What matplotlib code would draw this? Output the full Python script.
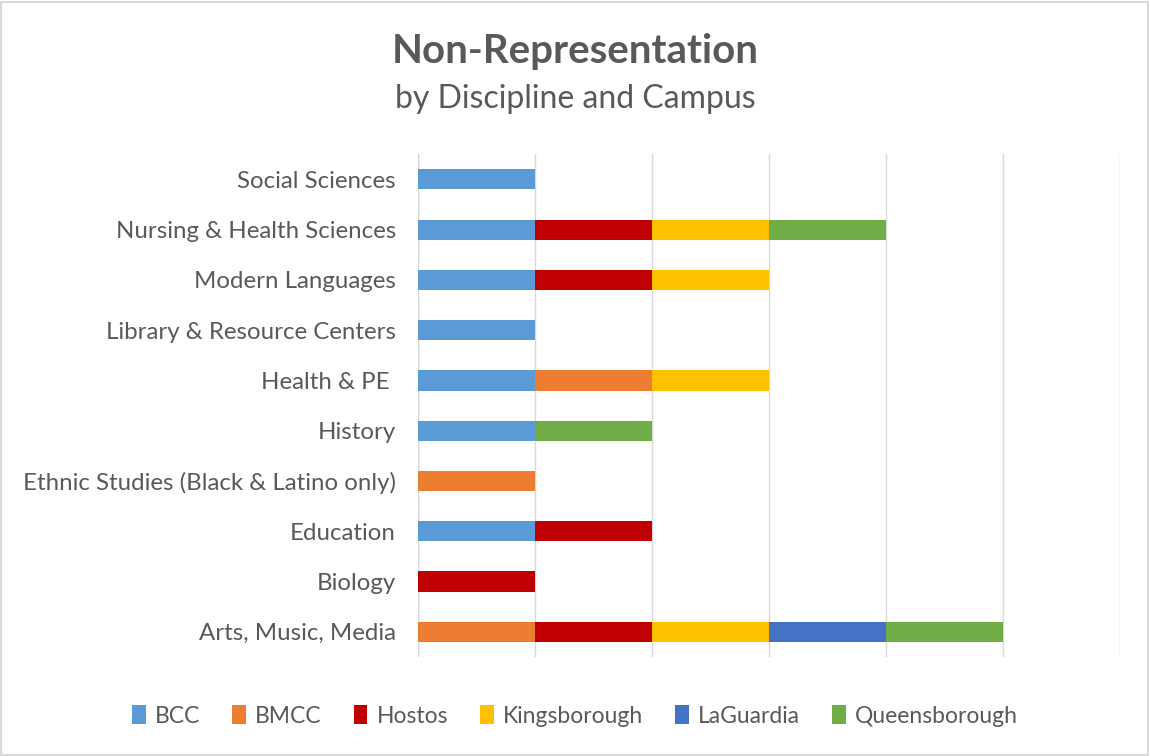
import matplotlib
matplotlib.use("Agg")
import matplotlib.pyplot as plt
from matplotlib.patches import Rectangle

categories = ["Arts, Music, Media", "Biology", "Education",
              "Ethnic Studies (Black & Latino only)", "History", "Health & PE ",
              "Library & Resource Centers", "Modern Languages",
              "Nursing & Health Sciences", "Social Sciences"]
campuses = ["BCC", "BMCC", "Hostos", "Kingsborough", "LaGuardia", "Queensborough"]
BCC = [0, 0, 1, 0, 1, 1, 1, 1, 1, 1]
BMCC = [1, 0, 0, 1, 0, 1, 0, 0, 0, 0]
Hostos = [1, 1, 1, 0, 0, 0, 0, 1, 1, 0]
Kingsborough = [1, 0, 0, 0, 0, 1, 0, 1, 1, 0]
LaGuardia = [1, 0, 0, 0, 0, 0, 0, 0, 0, 0]
Queensborough = [1, 0, 0, 0, 1, 0, 0, 0, 1, 0]
series = [BCC, BMCC, Hostos, Kingsborough, LaGuardia, Queensborough]
colors = ["#5B9BD5", "#ED7D31", "#C00000", "#FFC000", "#4472C4", "#70AD47"]

plt.rcParams['font.family'] = ['Lato', 'DejaVu Sans']
txt = "#595959"

fig = plt.figure(figsize=(11.5, 7.56), dpi=100)
fig.patches.append(Rectangle((0.001, 0.001), 0.997, 0.997, transform=fig.transFigure,
                             fill=False, edgecolor="#D9D9D9", linewidth=1.5))
ax = fig.add_axes([0.3635, 0.131, 0.6104, 0.665])

y = list(range(len(categories)))
left = [0] * len(categories)
for name, vals, c in zip(campuses, series, colors):
    ax.barh(y, vals, left=left, height=0.4, color=c, label=name, zorder=3)
    left = [l + v for l, v in zip(left, vals)]

ax.set_xlim(0, 6)
ax.set_ylim(-0.5, len(categories) - 0.5)
ax.set_xticks(range(0, 7))
ax.set_xticklabels([])
ax.tick_params(axis='x', length=0)
ax.tick_params(axis='y', length=0, pad=16, labelsize=17.3, labelcolor=txt)
ax.set_yticks(y)
ax.set_yticklabels(categories)
ax.grid(axis='x', color="#D9D9D9", linewidth=1, zorder=0)
for s in ax.spines.values():
    s.set_visible(False)
ax.axvline(0, color="#D9D9D9", linewidth=1, zorder=0)

fig.text(0.5, 0.932, "Non-Representation", ha='center', va='center',
         fontsize=29, fontweight='bold', color=txt)
fig.text(0.5, 0.869, "by Discipline and Campus", ha='center', va='center',
         fontsize=23, color=txt)

leg = fig.legend(loc='center', bbox_to_anchor=(0.5, 0.053), ncol=6, frameon=False,
                 fontsize=16.5, handlelength=0.6, handleheight=0.9, handletextpad=0.4,
                 columnspacing=1.4)
for t in leg.get_texts():
    t.set_color(txt)

fig.savefig("out.png", dpi=100)
